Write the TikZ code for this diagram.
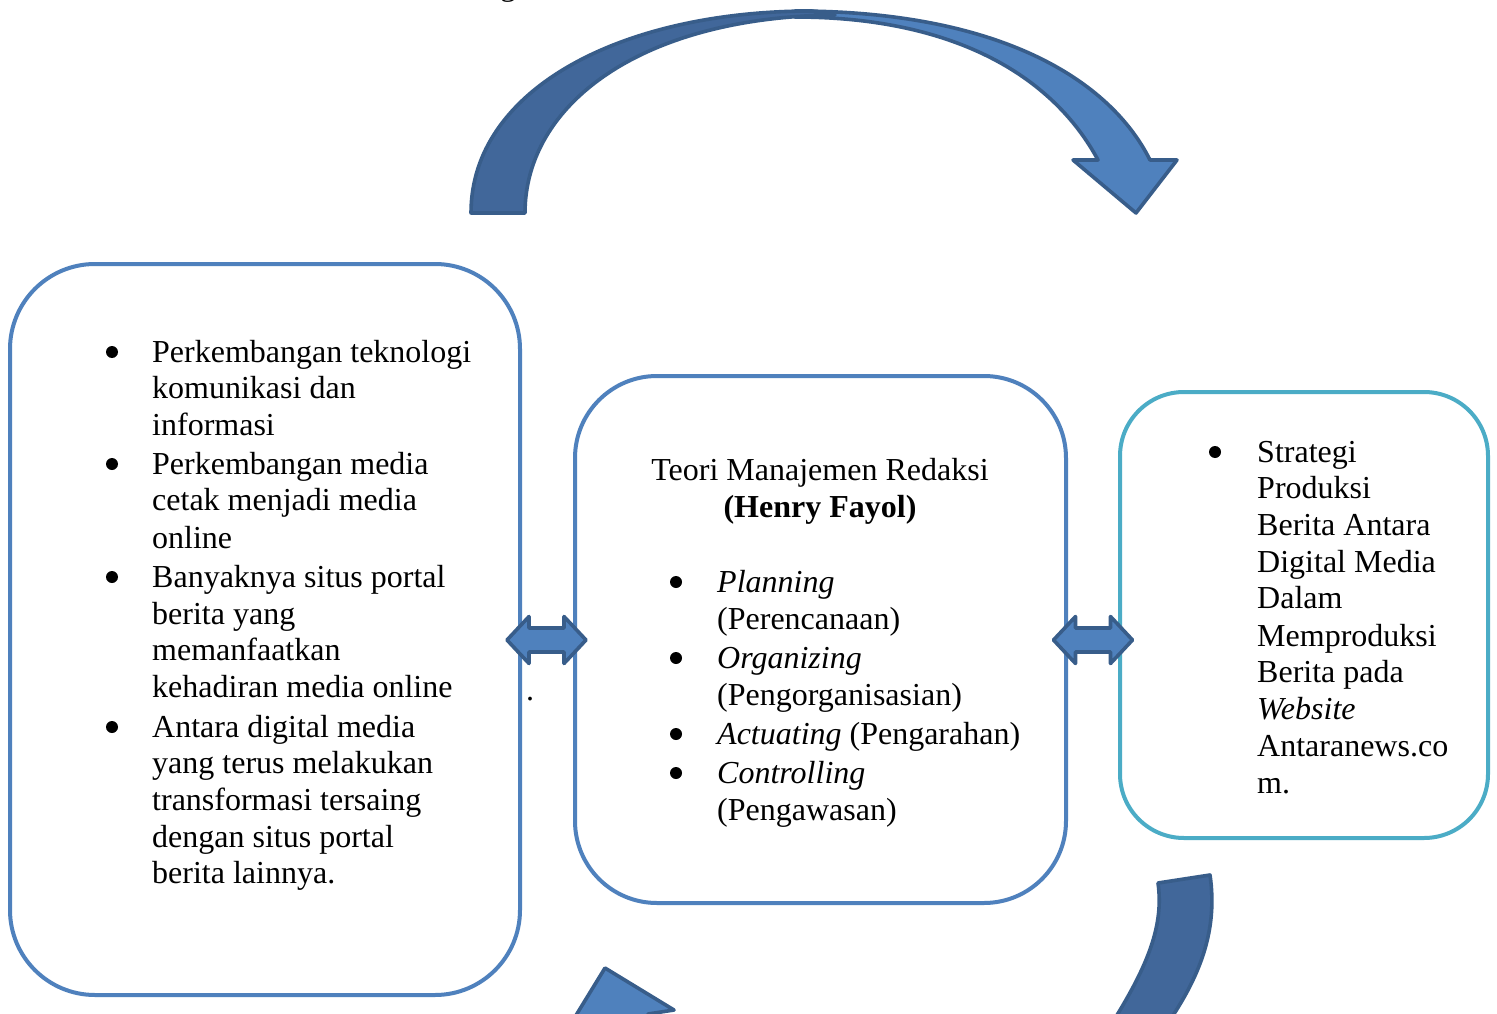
\documentclass[tikz,border=0pt]{standalone}
\usepackage{fontspec}
\setmainfont{Liberation Serif}
\definecolor{boxblue}{HTML}{4F81BD}
\definecolor{boxteal}{HTML}{4BACC6}
\definecolor{arrline}{HTML}{385D8A}
\definecolor{arrdarkfill}{HTML}{41679A}
\definecolor{arrlightfill}{HTML}{4F81BD}
\newcommand\bodyfont{\fontsize{32}{37}\selectfont}
\begin{document}
\begin{tikzpicture}[x=1pt,y=-1pt,
  txt/.style={anchor=base west, inner sep=0pt, font=\bodyfont},
  ctxt/.style={anchor=base, inner sep=0pt, font=\bodyfont},
  bul/.style={circle, fill=black, inner sep=0pt, minimum size=12pt},
  roundbox/.style={draw=#1, line width=4pt, fill=none, inner sep=0pt},
  arrlight/.style={fill=arrlightfill, draw=arrline, line width=3.6pt, line join=round},
  arrdark/.style={fill=arrdarkfill, draw=arrline, line width=3.6pt, line join=round},
  dbl/.pic={\filldraw[arrlight] (-39.5,0) -- (-17.5,-23.5) -- (-17.5,-12) -- (17.5,-12) -- (17.5,-23.5) -- (39.5,0) -- (17.5,23.5) -- (17.5,12) -- (-17.5,12) -- (-17.5,23.5) -- cycle;}
]
\useasboundingbox (0,0) rectangle (1497,1014);
\clip (0,0) rectangle (1497,1014);
\fill[white] (0,0) rectangle (1497,1014);

% cut-off text at the top
\node[txt] (topg) at (500,-4) {g};

% top curved arrow
\filldraw[arrlight] (795,11) .. controls (1000,11) and (1110,80) .. (1150,160) -- (1177,160) -- (1136,213) -- (1073,160) -- (1098,160) .. controls (1055,80) and (960,17) .. (795,17) -- cycle;
\filldraw[arrdark] (471,213) .. controls (471,90) and (620,11) .. (812,11) -- (835,15) .. controls (640,17) and (525,105) .. (525,213) -- cycle;

% bottom partial arrows
\filldraw[arrlight] (605,968) -- (674,1010) -- (648,1014) -- (648,1030) -- (567,1030) -- cycle;
\filldraw[arrdark] (1158,883) -- (1210,875) .. controls (1218,930) and (1200,975) .. (1170,1020) -- (1114,1020) .. controls (1148,965) and (1164,925) .. (1158,883) -- cycle;

% boxes
\node[roundbox=boxblue, rounded corners=85pt, minimum width=510pt, minimum height=731pt] (leftbox) at (265,629.5) {};
\node[roundbox=boxblue, rounded corners=82pt, minimum width=491pt, minimum height=527pt] (midbox) at (820.5,639.5) {};
\node[roundbox=boxteal, rounded corners=64pt, minimum width=368pt, minimum height=446pt] (rightbox) at (1304,615) {};

% double arrows
\pic (dblL) at (546.5,640) {dbl};
\pic (dblR) at (1093,640) {dbl};

% left box text
\node[bul] (lb1) at (112,352) {};
\node[bul] (lb2) at (112,464) {};
\node[bul] (lb3) at (112,577) {};
\node[bul] (lb4) at (112,727) {};
\node[txt] (l01) at (152,362) {Perkembangan teknologi};
\node[txt] (l02) at (152,398) {komunikasi dan};
\node[txt] (l03) at (152,435) {informasi};
\node[txt] (l04) at (152,474) {Perkembangan media};
\node[txt] (l05) at (152,510) {cetak menjadi media};
\node[txt] (l06) at (152,548) {online};
\node[txt] (l07) at (152,587) {Banyaknya situs portal};
\node[txt] (l08) at (152,624) {berita yang};
\node[txt] (l09) at (152,660) {memanfaatkan};
\node[txt] (l10) at (152,697) {kehadiran media online};
\node[txt] (l11) at (152,737) {Antara digital media};
\node[txt] (l12) at (152,773) {yang terus melakukan};
\node[txt] (l13) at (152,810) {transformasi tersaing};
\node[txt] (l14) at (152,847) {dengan situs portal};
\node[txt] (l15) at (152,883) {berita lainnya.};

% stray dot
\node[txt] (dot) at (526,700) {.};

% middle box text
\node[ctxt] (m01) at (820,480) {Teori Manajemen Redaksi};
\node[ctxt] (m02) at (820,517) {\bfseries (Henry Fayol)};
\node[bul] (mb1) at (676,582) {};
\node[bul] (mb2) at (676,658) {};
\node[bul] (mb3) at (676,734) {};
\node[bul] (mb4) at (676,773) {};
\node[txt] (m03) at (717,592) {\itshape Planning};
\node[txt] (m04) at (717,629) {(Perencanaan)};
\node[txt] (m05) at (717,668) {\itshape Organizing};
\node[txt] (m06) at (717,705) {(Pengorganisasian)};
\node[txt] (m07) at (717,744) {\textit{Actuating} (Pengarahan)};
\node[txt] (m08) at (717,783) {\itshape Controlling};
\node[txt] (m09) at (717,820) {(Pengawasan)};

% right box text
\node[bul] (rb1) at (1215,452) {};
\node[txt] (r01) at (1257,462) {Strategi};
\node[txt] (r02) at (1257,498) {Produksi};
\node[txt] (r03) at (1257,535) {Berita Antara};
\node[txt] (r04) at (1257,572) {Digital Media};
\node[txt] (r05) at (1257,608) {Dalam};
\node[txt] (r06) at (1257,646) {Memproduksi};
\node[txt] (r07) at (1257,682) {Berita pada};
\node[txt] (r08) at (1257,719) {\itshape Website};
\node[txt] (r09) at (1257,756) {Antaranews.co};
\node[txt] (r10) at (1257,793) {m.};
\end{tikzpicture}
\end{document}
